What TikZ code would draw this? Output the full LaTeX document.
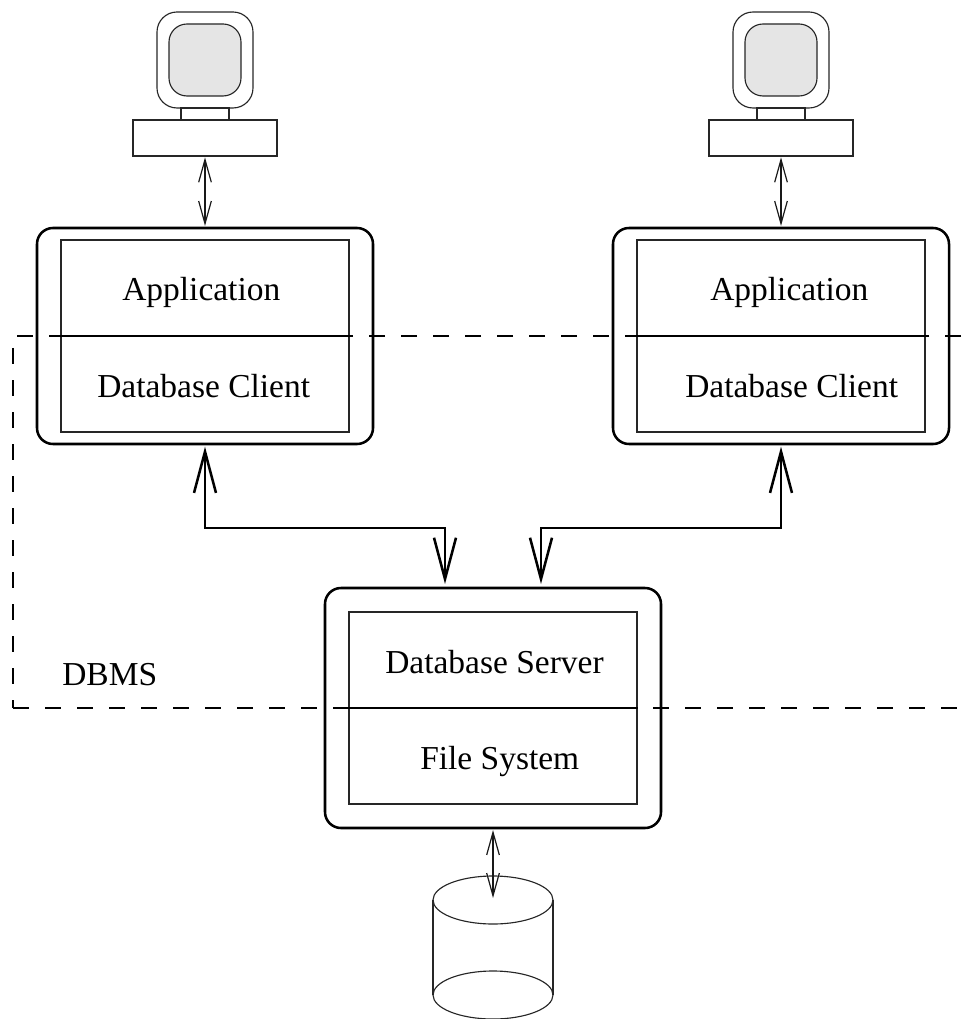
\documentclass[tikz,border=0pt]{standalone}
\usepackage{fontspec}
\setmainfont{Liberation Serif}
\usetikzlibrary{arrows.meta,shapes.geometric}
\tikzset{
  px/.style={x=0.75pt,y=-0.75pt},
  thinline/.style={line width=0.85pt,draw=black!85},
  outerbox/.style={draw=black,line width=1.9pt,rounded corners=12pt,minimum width=252pt,inner sep=0pt},
  innerbox/.style={thinline,minimum width=216pt,minimum height=144pt,inner sep=0pt},
  monitorcase/.style={draw=black!85,line width=0.85pt,rounded corners=15pt,minimum width=72pt,minimum height=72pt,inner sep=0pt},
  screen/.style={draw=black!85,fill=black!10,line width=0.85pt,rounded corners=13.5pt,minimum width=54pt,minimum height=54pt,inner sep=0pt},
  neck/.style={thinline,minimum width=36pt,minimum height=9pt,inner sep=0pt},
  keyboard/.style={thinline,minimum width=108pt,minimum height=27pt,inner sep=0pt},
  label/.style={anchor=base west,font=\fontsize{25.1pt}{28pt}\selectfont,inner sep=0pt},
  smallarrow/.style={line width=0.9pt,draw=black!90,{Straight Barb[length=17pt,width=9.5pt]}-{Straight Barb[length=17pt,width=9.5pt]}},
  bigarrow/.style={line width=1.9pt,draw=black,{Straight Barb[length=31pt,width=16.5pt]}-{Straight Barb[length=31pt,width=16.5pt]}},
  boundary/.style={line width=1.8pt,draw=black,dash pattern=on 12pt off 12pt},
  divider/.style={line width=1.1pt,draw=black},
}
\begin{document}
\begin{tikzpicture}[px]
\useasboundingbox (0,0) rectangle (969,1019);
% workstations
\node[monitorcase] (caseA) at (205,60) {};
\node[screen] (screenA) at (205,60) {};
\node[neck] (neckA) at (205,114) {};
\node[keyboard] (kbA) at (205,138) {};
\node[monitorcase] (caseB) at (781,60) {};
\node[screen] (screenB) at (781,60) {};
\node[neck] (neckB) at (781,114) {};
\node[keyboard] (kbB) at (781,138) {};
% client boxes
\node[outerbox,minimum height=162pt] (clientA) at (205,336) {};
\node[innerbox] (innerA) at (205,336) {};
\node[outerbox,minimum height=162pt] (clientB) at (781,336) {};
\node[innerbox] (innerB) at (781,336) {};
% server box
\node[outerbox,minimum height=180pt] (server) at (493,708) {};
\node[innerbox] (innerS) at (493,708) {};
% dividers
\draw[divider] (innerA.west) -- (innerA.east);
\draw[divider] (innerB.west) -- (innerB.east);
\draw[divider] (innerS.west) -- (innerS.east);
% labels
\node[label] (appA) at (122,301) {Application};
\node[label] (dbcA) at (97,397) {Database Client};
\node[label] (appB) at (710,301) {Application};
\node[label] (dbcB) at (685,397) {Database Client};
\node[label] (dbs) at (385,673) {Database Server};
\node[label] (fs) at (420,769) {File System};
\node[label] (dbms) at (62,685) {DBMS};
% cylinder
\coordinate (cylTL) at (433,900);
\coordinate (cylTR) at (553,900);
\coordinate (cylBL) at (433,995);
\coordinate (cylBR) at (553,995);
\coordinate (cylTip) at (493,898);
\begin{scope}
\clip (420,860) rectangle (570,1018);
\draw[thinline] (493,900) ellipse [x radius=60,y radius=24];
\draw[thinline] (493,995) ellipse [x radius=60,y radius=24];
\draw[thinline] (cylTL) -- (cylBL);
\draw[thinline] (cylTR) -- (cylBR);
\end{scope}
% small arrows
\draw[smallarrow,shorten <=0.6pt,shorten >=0.6pt] (kbA.south) -- (clientA.north);
\draw[smallarrow,shorten <=0.6pt,shorten >=0.6pt] (kbB.south) -- (clientB.north);
\draw[smallarrow,shorten <=0.6pt] (server.south) -- (cylTip);
% big arrows
\coordinate (inA) at (445,588);
\coordinate (inB) at (541,588);
\coordinate (outA) at (205,444);
\coordinate (outB) at (781,444);
\coordinate (midA) at (205,528);
\coordinate (midB) at (781,528);
\draw[bigarrow,shorten <=2pt,shorten >=3pt] (outA) -- (midA) -- (midA -| inA) -- (inA);
\draw[bigarrow,shorten <=2pt,shorten >=3pt] (outB) -- (midB) -- (midB -| inB) -- (inB);
% DBMS boundary
\coordinate (bTR) at (961,336);
\coordinate (bTL) at (17,336);
\coordinate (bVT) at (13,348);
\coordinate (bBL) at (13,708);
\coordinate (bBR) at (961,708);
\draw[boundary] (bTR) -- (bTL);
\draw[boundary] (bVT) -- (bBL);
\draw[boundary] (bBL) -- (bBR);
\end{tikzpicture}
\end{document}
